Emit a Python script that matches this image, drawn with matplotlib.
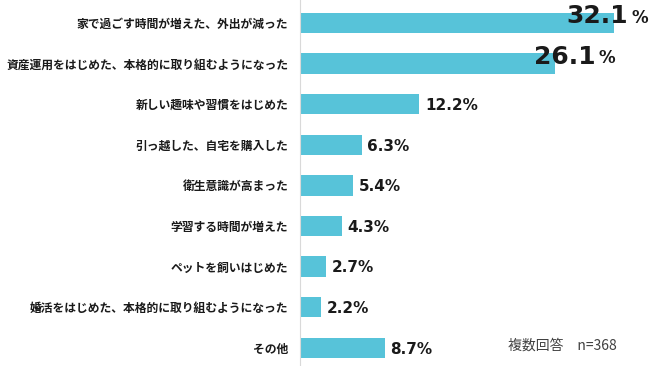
import matplotlib.pyplot as plt

plt.rcParams['font.family'] = ['Noto Sans CJK JP', 'DejaVu Sans']

labels = ['家で過ごす時間が増えた、外出が減った',
          '資産運用をはじめた、本格的に取り組むようになった',
          '新しい趣味や習慣をはじめた',
          '引っ越した、自宅を購入した',
          '衛生意識が高まった',
          '学習する時間が増えた',
          'ペットを飼いはじめた',
          '婚活をはじめた、本格的に取り組むようになった',
          'その他']
values = [32.1, 26.1, 12.2, 6.3, 5.4, 4.3, 2.7, 2.2, 8.7]
note = '複数回答　n=368'

bar_color = '#57c3d9'
text_color = '#1a1a1a'

fig = plt.figure(figsize=(6.5, 3.66), dpi=100)
ax = fig.add_axes([0.4615, 0, 0.5385, 1])

y = list(range(len(values)))
ax.barh(y, values, height=0.5, color=bar_color)
ax.set_xlim(0, 35.8)
ax.set_ylim(8.45, -0.566)

for s in ['top', 'right', 'bottom']:
    ax.spines[s].set_visible(False)
ax.spines['left'].set_color('#d9d9d9')
ax.spines['left'].set_linewidth(0.8)
ax.set_xticks([])
ax.set_yticks(y)
ax.set_yticklabels(labels, fontsize=8.5, fontweight='bold', color=text_color)
ax.tick_params(axis='y', length=0, pad=8.5)

# big labels for the top two, small labels for the rest
big_offsets = [-47, -21]
for i, v in enumerate(values):
    if i < 2:
        t = ax.annotate(f'{v:.1f}', (v, i), xytext=(big_offsets[i] * 0.72, 0),
                        textcoords='offset points', ha='left', va='baseline',
                        fontsize=18, fontweight='bold', color=text_color,
                        family='DejaVu Sans')
        ax.annotate('%', xycoords=t, xy=(1, 0), xytext=(2, 1),
                    textcoords='offset points', ha='left', va='bottom',
                    fontsize=12, fontweight='bold', color=text_color,
                    family='DejaVu Sans')
    else:
        ax.annotate(f'{v:.1f}%', (v, i), xytext=(4, -1),
                    textcoords='offset points', ha='left', va='center',
                    fontsize=11, fontweight='bold', color=text_color,
                    family='DejaVu Sans')

fig.text(0.782, 0.057, note, fontsize=10, color='#404040', ha='left', va='center')

fig.savefig('out.png', dpi=100)
